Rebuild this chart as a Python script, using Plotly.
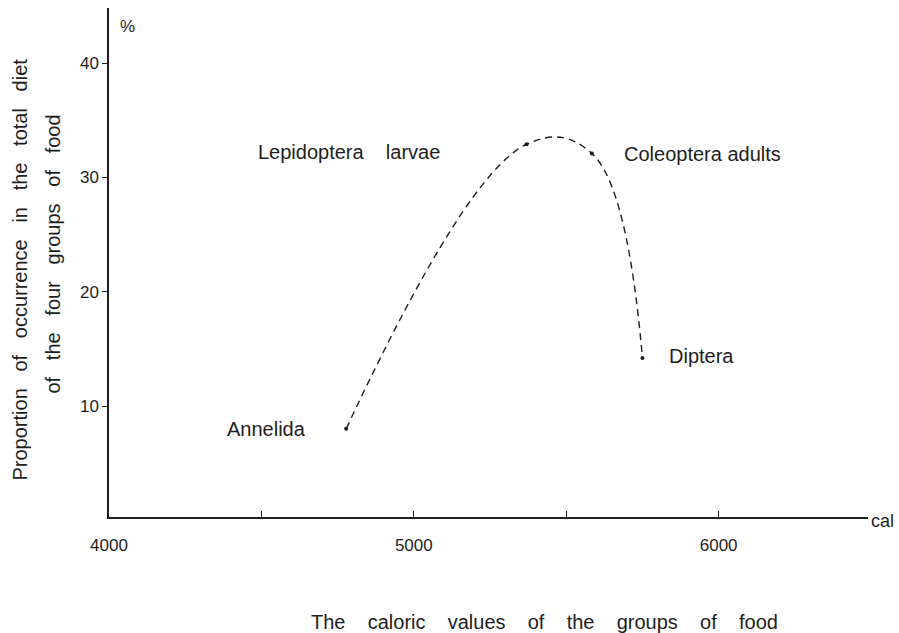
import plotly.graph_objects as go

groups = ["Annelida", "Lepidoptera larvae", "Coleoptera adults", "Diptera"]
calories = [4778, 5370, 5584, 5750]
occurrence = [8.0, 32.9, 32.1, 14.2]

x_tickvals = [4000, 4500, 5000, 5500, 6000]
x_ticktext = ["4000", "", "5000", "", "6000"]
y_tickvals = [10, 20, 30, 40]
y_ticktext = ["10", "20", "30", "40"]

INK = "#1e1e1e"
FONT = "Liberation Sans"
NB = "\u00a0"


def spaced(s, n):
    return (NB * n).join(s.split(" "))


fig = go.Figure()
fig.add_trace(go.Scatter(
    x=calories, y=occurrence, mode="lines+markers",
    line=dict(color=INK, width=1.4, dash="7px,5px", shape="spline", smoothing=1.15),
    marker=dict(color=INK, size=4),
    showlegend=False, hoverinfo="skip",
))

label_pos = {
    "Annelida": dict(xshift=-38, yshift=0, xanchor="right", gap=1),
    "Lepidoptera larvae": dict(xshift=-85, yshift=-8, xanchor="right", gap=4),
    "Coleoptera adults": dict(xshift=30, yshift=-1, xanchor="left", gap=1),
    "Diptera": dict(xshift=25, yshift=2, xanchor="left", gap=1),
}
for g, xv, yv in zip(groups, calories, occurrence):
    p = label_pos[g]
    fig.add_annotation(x=xv, y=yv, text=spaced(g, p["gap"]), showarrow=False,
                       xanchor=p["xanchor"], yanchor="middle",
                       xshift=p["xshift"], yshift=p["yshift"],
                       font=dict(family=FONT, size=20, color=INK))

fig.add_annotation(xref="paper", yref="paper", x=0, y=1, text="%", showarrow=False,
                   xanchor="left", yanchor="top", xshift=9, yshift=-7,
                   font=dict(family=FONT, size=17, color=INK))
fig.add_annotation(xref="paper", yref="paper", x=1, y=0, text="cal", showarrow=False,
                   xanchor="left", yanchor="middle", xshift=1, yshift=-4,
                   font=dict(family=FONT, size=18, color=INK))
fig.add_annotation(xref="paper", yref="paper", x=0, xshift=435, y=0, yshift=-92,
                   text=spaced("The caloric values of the groups of food", 4),
                   showarrow=False, xanchor="center", yanchor="top",
                   font=dict(family=FONT, size=20, color=INK))
fig.add_annotation(xref="paper", yref="paper", x=0, xshift=-90, y=0.5, yshift=-7,
                   text=spaced("Proportion of occurrence in the total diet", 3),
                   textangle=-90, showarrow=False, xanchor="center", yanchor="middle",
                   font=dict(family=FONT, size=20, color=INK))
fig.add_annotation(xref="paper", yref="paper", x=0, xshift=-57, y=0.5, yshift=8,
                   text=spaced("of the four groups of food", 3),
                   textangle=-90, showarrow=False, xanchor="center", yanchor="middle",
                   font=dict(family=FONT, size=20, color=INK))

fig.update_xaxes(range=[4000, 6490], tickvals=x_tickvals, ticktext=x_ticktext,
                 ticks="inside", ticklen=6, tickwidth=1.2, tickcolor=INK,
                 showline=True, linecolor=INK, linewidth=1.5, showgrid=False,
                 zeroline=False, ticklabelstandoff=12,
                 tickfont=dict(family=FONT, size=17, color=INK))
fig.update_yaxes(range=[0.29, 44.82], tickvals=y_tickvals, ticktext=y_ticktext,
                 ticks="outside", ticklen=5, tickwidth=1.2, tickcolor=INK,
                 showline=True, linecolor=INK, linewidth=1.5, showgrid=False,
                 zeroline=False,
                 tickfont=dict(family=FONT, size=17, color=INK))

fig.update_layout(width=899, height=633, plot_bgcolor="white", paper_bgcolor="white",
                  margin=dict(l=109, r=31, t=8, b=116))

fig.write_html("out.html", config={"displayModeBar": False},
               post_script="document.body.style.margin='0';")
